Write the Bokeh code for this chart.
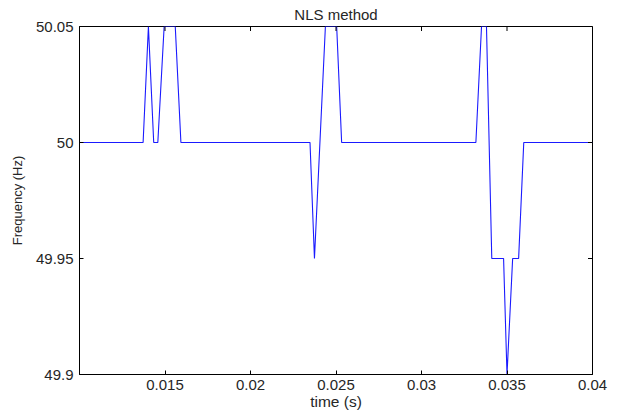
import math
from bokeh.plotting import figure
from bokeh.models import FixedTicker, Range1d
from bokeh.embed import file_html
from bokeh.resources import INLINE

title_text = "NLS method"
x_label = "time (s)"
y_label = "Frequency (Hz)"

time_s = [0.0100, 0.01372, 0.01403, 0.01434, 0.01458, 0.01495, 0.0156, 0.01593,
          0.02348, 0.02374, 0.02438, 0.02504, 0.02533,
          0.03318, 0.03351, 0.0338, 0.03411, 0.0348, 0.0350, 0.03533, 0.03568, 0.03598, 0.0400]
freq_hz = [50.0, 50.0, 50.05, 50.0, 50.0, 50.05, 50.05, 50.0,
           50.0, 49.95, 50.05, 50.05, 50.0,
           50.0, 50.05, 50.05, 49.95, 49.95, 49.9, 49.95, 49.95, 50.0, 50.0]

x_ticks = [0.015, 0.02, 0.025, 0.03, 0.035, 0.04]
x_tick_labels = ["0.015", "0.02", "0.025", "0.03", "0.035", "0.04"]
y_ticks = [49.9, 49.95, 50.0, 50.05]
y_tick_labels = ["49.9", "49.95", "50", "50.05"]
x_min, x_max = 0.0100, 0.0400
y_min, y_max = 49.9, 50.05

FONT = "Liberation Sans"
TXT = "#262626"

p = figure(width=618, height=416, output_backend="svg", toolbar_location=None,
           x_range=Range1d(x_min, x_max), y_range=Range1d(y_min, y_max),
           min_border_left=79, min_border_right=26, min_border_top=26, min_border_bottom=42,
           x_axis_label=x_label, y_axis_label=y_label)
p.background_fill_color = "white"
p.border_fill_color = "white"
p.outline_line_color = "black"
p.outline_line_width = 1
p.grid.visible = False

p.title.text = title_text
p.title.align = "center"
p.title.text_font = FONT
p.title.text_font_size = "15px"
p.title.text_font_style = "normal"
p.title.text_color = TXT
p.title.standoff = 7

p.line(time_s, freq_hz, line_color="#1a1aff", line_width=1.1)

# inward tick marks on the top and right edges of the box (clipped to the frame)
p.scatter(x_ticks, [y_max] * len(x_ticks), marker="dash", size=9, angle=math.pi / 2,
          line_color="black", line_width=1)
p.scatter([x_max] * len(y_ticks), y_ticks, marker="dash", size=9,
          line_color="black", line_width=1)

def style(ax, ticks, labels, size):
    ax.ticker = FixedTicker(ticks=ticks)
    ax.major_label_overrides = {t: l for t, l in zip(ticks, labels)}
    ax.axis_line_color = "black"
    ax.major_tick_line_color = "black"
    ax.major_tick_in = 4
    ax.major_tick_out = 0
    ax.minor_tick_line_color = None
    ax.major_label_text_font = FONT
    ax.major_label_text_font_size = "15px"
    ax.major_label_text_color = TXT
    ax.axis_label_text_font = FONT
    ax.axis_label_text_font_size = size
    ax.axis_label_text_font_style = "normal"
    ax.axis_label_text_color = TXT

style(p.xaxis[0], x_ticks, x_tick_labels, "15.5px")
p.xaxis[0].major_label_standoff = 5
p.xaxis[0].axis_label_standoff = 0
style(p.yaxis[0], y_ticks, y_tick_labels, "13px")
p.yaxis[0].major_label_standoff = 6
p.yaxis[0].axis_label_standoff = 8

open("out.html", "w").write(file_html(p, INLINE))
